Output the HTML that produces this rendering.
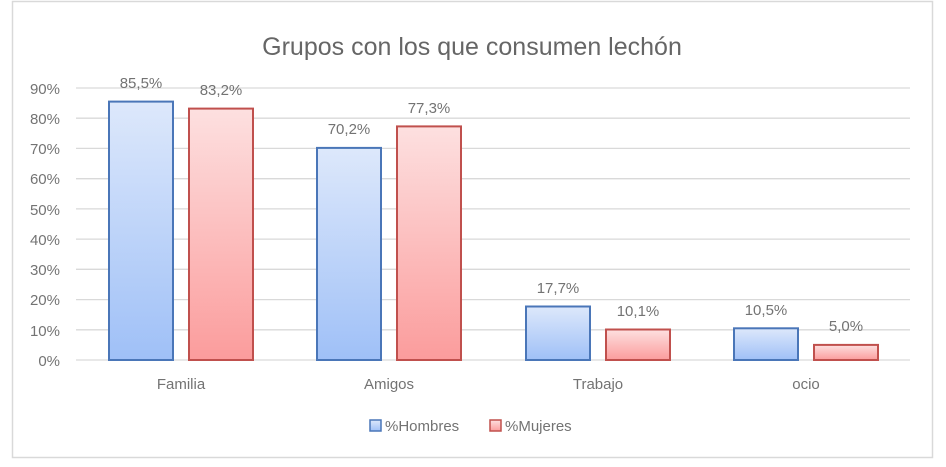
<!DOCTYPE html>
<html><head><meta charset="utf-8"><style>
html,body{margin:0;padding:0;background:#fff;}
svg{display:block;font-family:"Liberation Sans",sans-serif;}
</style></head><body>
<svg width="946" height="467" viewBox="0 0 946 467">
<defs>
<linearGradient id="gb" x1="0" y1="0" x2="0" y2="1"><stop offset="0" stop-color="#dde8fb"/><stop offset="1" stop-color="#9fc0f7"/></linearGradient>
<linearGradient id="gr" x1="0" y1="0" x2="0" y2="1"><stop offset="0" stop-color="#fde0e0"/><stop offset="1" stop-color="#fb9c9c"/></linearGradient>
</defs>
<rect x="12.5" y="1.5" width="920" height="456" fill="#fff" stroke="#d9d9d9" stroke-width="1.5"/>
<text x="472" y="55" text-anchor="middle" font-size="25" fill="#666">Grupos con los que consumen lechón</text>
<g stroke="#d9d9d9" stroke-width="1.3">
<line x1="76" x2="910" y1="88" y2="88"/><line x1="76" x2="910" y1="118.2" y2="118.2"/><line x1="76" x2="910" y1="148.4" y2="148.4"/><line x1="76" x2="910" y1="178.7" y2="178.7"/><line x1="76" x2="910" y1="208.9" y2="208.9"/><line x1="76" x2="910" y1="239.1" y2="239.1"/><line x1="76" x2="910" y1="269.3" y2="269.3"/><line x1="76" x2="910" y1="299.6" y2="299.6"/><line x1="76" x2="910" y1="329.8" y2="329.8"/><line x1="76" x2="910" y1="360" y2="360"/>
</g>
<g font-size="15" fill="#737373" text-anchor="end">
<text x="60" y="94">90%</text><text x="60" y="124">80%</text><text x="60" y="154">70%</text><text x="60" y="184">60%</text><text x="60" y="215">50%</text><text x="60" y="245">40%</text><text x="60" y="275">30%</text><text x="60" y="305">20%</text><text x="60" y="336">10%</text><text x="60" y="366">0%</text>
</g>
<g stroke-width="2">
<rect x="109" y="101.6" width="64" height="258.4" fill="url(#gb)" stroke="#4a76b8"/>
<rect x="189" y="108.6" width="64" height="251.4" fill="url(#gr)" stroke="#c0504d"/>
<rect x="317" y="147.9" width="64" height="212.1" fill="url(#gb)" stroke="#4a76b8"/>
<rect x="397" y="126.4" width="64" height="233.6" fill="url(#gr)" stroke="#c0504d"/>
<rect x="526" y="306.5" width="64" height="53.5" fill="url(#gb)" stroke="#4a76b8"/>
<rect x="606" y="329.5" width="64" height="30.5" fill="url(#gr)" stroke="#c0504d"/>
<rect x="734" y="328.3" width="64" height="31.7" fill="url(#gb)" stroke="#4a76b8"/>
<rect x="814" y="344.9" width="64" height="15.1" fill="url(#gr)" stroke="#c0504d"/>
</g>
<g font-size="15" fill="#737373" text-anchor="middle">
<text x="141" y="88">85,5%</text><text x="221" y="95">83,2%</text>
<text x="349" y="134">70,2%</text><text x="429" y="113">77,3%</text>
<text x="558" y="293">17,7%</text><text x="638" y="316">10,1%</text>
<text x="766" y="315">10,5%</text><text x="846" y="331">5,0%</text>
<text x="181" y="389">Familia</text><text x="389" y="389">Amigos</text><text x="598" y="389">Trabajo</text><text x="806" y="389">ocio</text>
</g>
<rect x="370" y="420" width="11" height="11" fill="url(#gb)" stroke="#4a76b8" stroke-width="1.5"/>
<text x="385" y="431" font-size="15" fill="#737373">%Hombres</text>
<rect x="490" y="420" width="11" height="11" fill="url(#gr)" stroke="#c0504d" stroke-width="1.5"/>
<text x="505" y="431" font-size="15" fill="#737373">%Mujeres</text>
</svg>
</body></html>
